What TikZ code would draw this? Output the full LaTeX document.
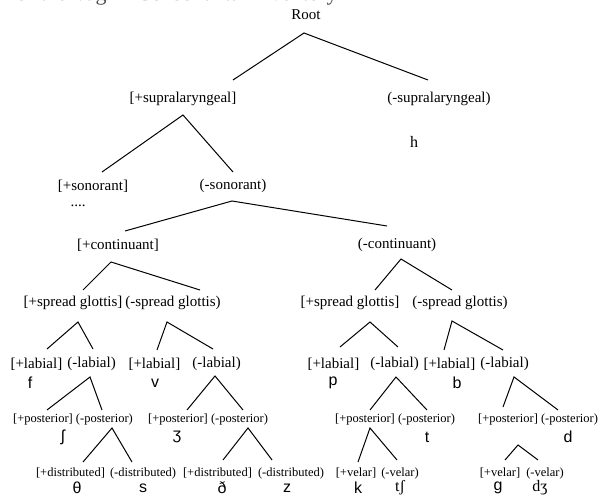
\documentclass[tikz,border=0pt]{standalone}
\usepackage{fontspec}
\setmainfont{Liberation Serif}
\newfontfamily\featfont{Liberation Serif}
\newfontfamily\phonfont{Liberation Sans}
\begin{document}
\begin{tikzpicture}[x=1pt,y=-1pt,
  feat/.style={font=\featfont\fontsize{15}{17}\selectfont, inner sep=0pt},
  subfeat/.style={font=\featfont\fontsize{12.5}{14}\selectfont, inner sep=0pt},
  phon/.style={font=\phonfont\fontsize{16}{18}\selectfont, inner sep=0pt},
  phonserif/.style={font=\featfont\fontsize{16}{18}\selectfont, inner sep=0pt},
  heading/.style={font=\featfont\fontsize{22}{24}\selectfont, text=black!70, inner sep=0pt},
  branch/.style={line width=1pt, black}]
\useasboundingbox (0,0) rectangle (600,497);

% ---- heading, trimmed at the top edge ----
\begin{scope}
  \clip (0,0) rectangle (600,10);
  \node[heading, anchor=base west] (heading) at (16,1) {of the Vaghri Consonantal Inventory};
\end{scope}

% ---- feature labels ----
\node[feat] (root) at (306,15) {Root};
\node[feat] (supP) at (183,99) {[+supralaryngeal]};
\node[feat] (supM) at (439,99) {(-supralaryngeal)};
\node[phonserif] (h) at (414,142) {h};
\node[feat] (sonP) at (93,186) {[+sonorant]};
\node[feat] (sonM) at (233,186) {(-sonorant)};
\node[feat] (dots) at (78,206) {....};
\node[feat] (contP) at (118,245) {[+continuant]};
\node[feat] (contM) at (397,245) {(-continuant)};

\node[feat] (sg1) at (73,303) {[+spread glottis]};
\node[feat] (sg2) at (173,303) {(-spread glottis)};
\node[feat] (sg3) at (350,303) {[+spread glottis]};
\node[feat] (sg4) at (460,303) {(-spread glottis)};

\node[feat] (lab1) at (36.4,364) {[+labial]};
\node[feat] (lab2) at (91.6,364) {(-labial)};
\node[feat] (lab3) at (154.4,364) {[+labial]};
\node[feat] (lab4) at (216.6,364) {(-labial)};
\node[feat] (lab5) at (333.4,364) {[+labial]};
\node[feat] (lab6) at (394.6,364) {(-labial)};
\node[feat] (lab7) at (449.4,364) {[+labial]};
\node[feat] (lab8) at (504.6,364) {(-labial)};

\node[phon] (f) at (30,383) {f};
\node[phon] (v) at (155,383) {v};
\node[phon] (p) at (333,383) {p};
\node[phon] (b) at (457,383) {b};

\node[subfeat] (pos1) at (43,419) {[+posterior]};
\node[subfeat] (pos2) at (104.4,419) {(-posterior)};
\node[subfeat] (pos3) at (178,419) {[+posterior]};
\node[subfeat] (pos4) at (239.5,419) {(-posterior)};
\node[subfeat] (pos5) at (365,419) {[+posterior]};
\node[subfeat] (pos6) at (426.5,419) {(-posterior)};
\node[subfeat] (pos7) at (508,419) {[+posterior]};
\node[subfeat] (pos8) at (569.5,419) {(-posterior)};

\node[phon] (sh) at (63,437) {ʃ};
\node[phon] (zh) at (177,437) {ʒ};
\node[phon] (t) at (427,437) {t};
\node[phon] (d) at (568,437) {d};

\node[subfeat] (dis1) at (70.5,473) {[+distributed]};
\node[subfeat] (dis2) at (143,473) {(-distributed)};
\node[subfeat] (dis3) at (217.5,473) {[+distributed]};
\node[subfeat] (dis4) at (291,473) {(-distributed)};
\node[subfeat] (vel1) at (356,473) {[+velar]};
\node[subfeat] (vel2) at (400,473) {(-velar)};
\node[subfeat] (vel3) at (500,473) {[+velar]};
\node[subfeat] (vel4) at (545,473) {(-velar)};

\node[phon] (th) at (77,488) {θ};
\node[phon] (s) at (143,488) {s};
\node[phon] (dh) at (222,488) {ð};
\node[phon] (z) at (287,488) {z};
\node[phon] (k) at (358,488) {k};
\node[phonserif] (tsh) at (400,488) {tʃ};
\node[phon] (g) at (498,488) {ɡ};
\node[phonserif] (dzh) at (540,488) {dʒ};

% ---- branch points ----
\coordinate (root-a) at (304,33);
\coordinate (supP-t) at (233,80);  \coordinate (supM-t) at (428,80);
\coordinate (supP-a) at (183,115);
\coordinate (sonP-t) at (102,172); \coordinate (sonM-t) at (233,172);
\coordinate (sonM-a) at (232,201);
\coordinate (contP-t) at (125,231); \coordinate (contM-t) at (387,226);
\coordinate (contP-a) at (111,262);
\coordinate (sg1-t) at (83,290);  \coordinate (sg2-t) at (200,290);
\coordinate (contM-a) at (401,259);
\coordinate (sg3-t) at (375,290); \coordinate (sg4-t) at (452,290);
\coordinate (sg1-a) at (78,322);
\coordinate (lab1-t) at (47,349);  \coordinate (lab2-t) at (93,349);
\coordinate (sg2-a) at (167,322);
\coordinate (lab3-t) at (157,350); \coordinate (lab4-t) at (213,349);
\coordinate (sg3-a) at (370,322);
\coordinate (lab5-t) at (340,347); \coordinate (lab6-t) at (398,347);
\coordinate (sg4-a) at (452,321);
\coordinate (lab7-t) at (444,350); \coordinate (lab8-t) at (503,350);
\coordinate (lab2-a) at (90,377);
\coordinate (pos1-t) at (47,410);  \coordinate (pos2-t) at (102,410);
\coordinate (lab4-a) at (215,376);
\coordinate (pos3-t) at (187,410); \coordinate (pos4-t) at (243,410);
\coordinate (lab6-a) at (396,377);
\coordinate (pos5-t) at (370,410); \coordinate (pos6-t) at (427,410);
\coordinate (lab8-a) at (514,377);
\coordinate (pos7-t) at (503,407); \coordinate (pos8-t) at (558,410);
\coordinate (pos2-a) at (112,428);
\coordinate (dis1-t) at (83,462);  \coordinate (dis2-t) at (132,462);
\coordinate (pos4-a) at (248,428);
\coordinate (dis3-t) at (223,460); \coordinate (dis4-t) at (272,460);
\coordinate (pos5-a) at (370,428);
\coordinate (vel1-t) at (358,462); \coordinate (vel2-t) at (397,460);
\coordinate (pos7-a) at (518,445);
\coordinate (vel3-t) at (505,460); \coordinate (vel4-t) at (538,460);

% ---- branches ----
\draw[branch] (supP-t) -- (root-a) -- (supM-t);
\draw[branch] (sonP-t) -- (supP-a) -- (sonM-t);
\draw[branch] (contP-t) -- (sonM-a) -- (contM-t);
\draw[branch] (sg1-t) -- (contP-a) -- (sg2-t);
\draw[branch] (sg3-t) -- (contM-a) -- (sg4-t);
\draw[branch] (lab1-t) -- (sg1-a) -- (lab2-t);
\draw[branch] (lab3-t) -- (sg2-a) -- (lab4-t);
\draw[branch] (lab5-t) -- (sg3-a) -- (lab6-t);
\draw[branch] (lab7-t) -- (sg4-a) -- (lab8-t);
\draw[branch] (pos1-t) -- (lab2-a) -- (pos2-t);
\draw[branch] (pos3-t) -- (lab4-a) -- (pos4-t);
\draw[branch] (pos5-t) -- (lab6-a) -- (pos6-t);
\draw[branch] (pos7-t) -- (lab8-a) -- (pos8-t);
\draw[branch] (dis1-t) -- (pos2-a) -- (dis2-t);
\draw[branch] (dis3-t) -- (pos4-a) -- (dis4-t);
\draw[branch] (vel1-t) -- (pos5-a) -- (vel2-t);
\draw[branch] (vel3-t) -- (pos7-a) -- (vel4-t);
\end{tikzpicture}
\end{document}
